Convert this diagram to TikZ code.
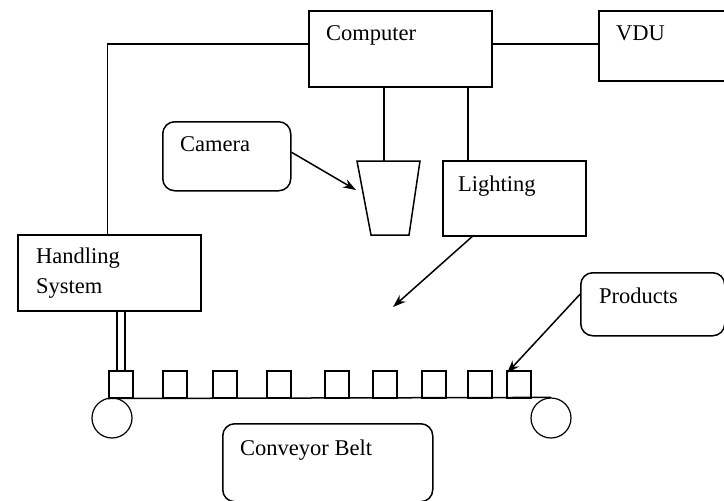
\documentclass[tikz,border=0pt]{standalone}
\usepackage{fontspec}
\setmainfont{Liberation Serif}
\usetikzlibrary{arrows.meta}
\tikzset{
  box/.style={draw, line width=1.5pt, anchor=north west, inner sep=0pt},
  rbox/.style={box, rounded corners=12pt},
  txt/.style={anchor=base west, inner sep=0pt, font=\fontsize{22.5}{26}\selectfont},
  wire/.style={line width=1.5pt},
  pointer/.style={line width=1.5pt, -{Stealth[length=13pt,width=9pt]}},
  item/.style={box, minimum width=24pt, minimum height=27pt},
  roller/.style={draw, circle, line width=1.2pt, minimum size=40pt, inner sep=0pt},
}
\begin{document}
\begin{tikzpicture}[x=1pt,y=-1pt]
\useasboundingbox (0,0) rectangle (724,501);

\node[box, minimum width=183pt, minimum height=76pt] (comp) at (308,10) {};
\node[txt] (comptext) at (326,40) {Computer};

\node[box, minimum width=140pt, minimum height=70pt] (vdu) at (598,10) {};
\node[txt] (vdutext) at (616,40) {VDU};

\node[rbox, minimum width=128pt, minimum height=69pt] (cam) at (162,121) {};
\node[txt] (camtext) at (180,151) {Camera};

\node[box, minimum width=143pt, minimum height=75pt] (light) at (442,160) {};
\node[txt] (lighttext) at (458,191) {Lighting};

\node[box, minimum width=183pt, minimum height=76pt] (handle) at (17,234) {};
\node[txt, align=left] (handletext) at (36,263) {Handling};
\node[txt] (handletext2) at (36,293) {System};

\node[rbox, minimum width=144pt, minimum height=63pt] (prod) at (580,272) {};
\node[txt] (prodtext) at (599,303) {Products};

\node[rbox, minimum width=210pt, minimum height=78pt] (belt) at (222,423) {};
\node[txt] (belttext) at (240,455) {Conveyor Belt};

% camera body
\coordinate (lenstop) at (384,161);
\draw[wire] (357,161) -- (420,161) -- (409,235) -- (371,235) -- cycle;
\coordinate (lensside) at (356,190);

% products on the belt
\foreach \x [count=\i] in {108,162,212,266,324,372,421,467,506}
  \node[item] (p\i) at (\x,370) {};

\node[roller] (lroll) at (112,418) {};
\node[roller] (rroll) at (551,418) {};
\draw[wire] (p1.south west) -- (rroll.north);

% wiring
\draw[wire] ([yshift=5pt]comp.east) -- ([yshift=5pt]comp.east -| vdu.west);
\draw[wire] ([yshift=5pt]comp.west) -| ([xshift=-2pt]handle.north);
\draw[wire] (comp.south -| lenstop) -- (lenstop);
\coordinate (lightfeed) at (468,160);
\draw[wire] (comp.south -| lightfeed) -- (lightfeed);
\draw[wire] ([xshift=-4pt]p1.north |- handle.south) -- ([xshift=-4pt]p1.north);
\draw[wire] ([xshift=4pt]p1.north |- handle.south) -- ([xshift=4pt]p1.north);

% pointers
\coordinate (spot) at (393,307);
\draw[pointer] ([yshift=4pt]cam.east) -- (lensside);
\draw[pointer] ([xshift=-42pt]light.south) -- (spot);
\draw[pointer] ([yshift=10pt]prod.west) -- ([shift={(1pt,-3pt)}]p9.north west);
\end{tikzpicture}
\end{document}
